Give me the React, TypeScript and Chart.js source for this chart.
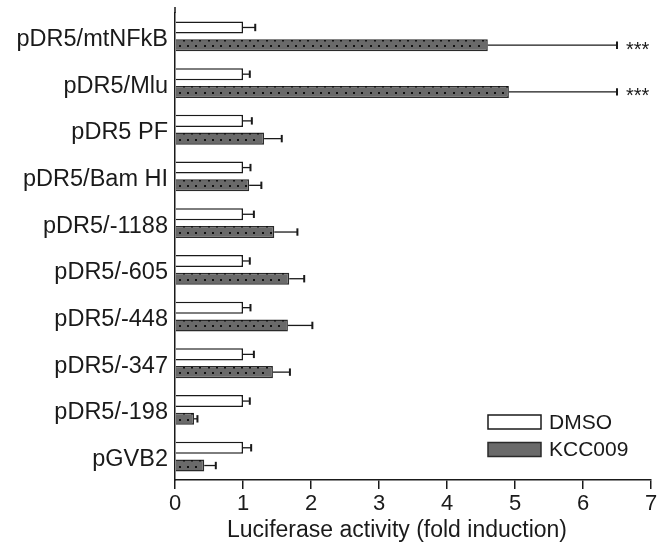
import React, { useEffect, useRef } from "react";
import { Chart, registerables } from "chart.js";
Chart.register(...registerables);

const categories = [
  "pDR5/mtNFkB",
  "pDR5/Mlu",
  "pDR5 PF",
  "pDR5/Bam HI",
  "pDR5/-1188",
  "pDR5/-605",
  "pDR5/-448",
  "pDR5/-347",
  "pDR5/-198",
  "pGVB2",
];
const seriesLabels = ["DMSO", "KCC009"];
const dmsoValues = [1, 1, 1, 1, 1, 1, 1, 1, 1, 1];
const dmsoErrorTop = [1.18, 1.1, 1.13, 1.11, 1.16, 1.1, 1.11, 1.16, 1.1, 1.12];
const kccValues = [4.6, 4.91, 1.31, 1.09, 1.46, 1.68, 1.66, 1.44, 0.28, 0.43];
const kccErrorTop = [6.5, 6.5, 1.57, 1.27, 1.8, 1.9, 2.02, 1.69, 0.33, 0.6];
const significance = ["***", "***", "", "", "", "", "", "", "", ""];
const xMin = 0;
const xMax = 7;
const xTitle = "Luciferase activity (fold induction)";

const FONT = "'Liberation Sans', Arial, Helvetica, sans-serif";
const INK = "#1a1a1a";

const overlayPlugin = {
  id: "overlay",
  afterDatasetsDraw(chart: any) {
    const ctx = chart.ctx;
    const xs = chart.scales.x;
    const area = chart.chartArea;
    ctx.save();
    // dotted texture on KCC bars
    const kMeta = chart.getDatasetMeta(1);
    ctx.fillStyle = "#111";
    kMeta.data.forEach((bar: any) => {
      const p = bar.getProps(["x", "y", "base", "height"], true);
      const left = Math.min(p.x, p.base);
      const right = Math.max(p.x, p.base);
      const top = p.y - p.height / 2;
      for (let dx = left + 3; dx < right - 3; dx += 8.3) {
        ctx.fillRect(Math.round(dx), Math.round(p.y), 2, 2);
        if (dx + 6 < right) ctx.fillRect(Math.round(dx + 4), Math.round(top + 0.5), 2, 1.5);
      }
    });
    // error bars
    chart.data.datasets.forEach((ds: any, di: number) => {
      const meta = chart.getDatasetMeta(di);
      meta.data.forEach((bar: any, i: number) => {
        const p = bar.getProps(["x", "y", "height"], true);
        const xe = xs.getPixelForValue(ds.errorTop[i]);
        ctx.strokeStyle = INK;
        ctx.lineWidth = 1.3;
        ctx.beginPath();
        ctx.moveTo(p.x, p.y);
        ctx.lineTo(xe, p.y);
        ctx.stroke();
        ctx.lineWidth = 2;
        ctx.beginPath();
        ctx.moveTo(xe, p.y - 3.7);
        ctx.lineTo(xe, p.y + 3.7);
        ctx.stroke();
        const sig = ds.sig ? ds.sig[i] : "";
        if (sig) {
          ctx.fillStyle = INK;
          ctx.font = `20px ${FONT}`;
          ctx.textAlign = "left";
          ctx.textBaseline = "middle";
          ctx.fillText(sig, xe + 9, p.y + 5);
        }
      });
    });
    // y-axis line extension above plot
    ctx.strokeStyle = INK;
    ctx.lineWidth = 1.5;
    ctx.beginPath();
    ctx.moveTo(area.left, area.top);
    ctx.lineTo(area.left, area.top - 6);
    ctx.stroke();
    // legend
    const bx = area.right - 163;
    const rows = [area.bottom - 58, area.bottom - 30.5];
    chart.data.datasets.forEach((ds: any, di: number) => {
      const cy = rows[di];
      ctx.fillStyle = ds.backgroundColor;
      ctx.fillRect(bx, cy - 7, 53, 14);
      ctx.strokeStyle = ds.borderColor;
      ctx.lineWidth = 1.5;
      ctx.strokeRect(bx, cy - 7, 53, 14);
      ctx.fillStyle = INK;
      ctx.font = `21px ${FONT}`;
      ctx.textAlign = "left";
      ctx.textBaseline = "middle";
      ctx.fillText(ds.label, bx + 61, cy + 1);
    });
    // x-axis title
    ctx.fillStyle = INK;
    ctx.font = `23px ${FONT}`;
    ctx.textAlign = "center";
    ctx.textBaseline = "middle";
    ctx.fillText(xTitle, area.left + 222, area.bottom + 51);
    ctx.restore();
  },
};

export default function App() {
  const ref = useRef<HTMLCanvasElement | null>(null);
  useEffect(() => {
    if (!ref.current) return;
    const chart = new Chart(ref.current, {
      type: "bar",
      data: {
        labels: categories,
        datasets: [
          {
            label: seriesLabels[0],
            data: dmsoValues,
            errorTop: dmsoErrorTop,
            backgroundColor: "#ffffff",
            borderColor: "#1a1a1a",
            borderWidth: 1.5,
            categoryPercentage: 0.76,
            barPercentage: 0.68,
          } as any,
          {
            label: seriesLabels[1],
            data: kccValues,
            errorTop: kccErrorTop,
            sig: significance,
            backgroundColor: "#6a6a6a",
            borderColor: "#2a2a2a",
            borderWidth: 1.5,
            categoryPercentage: 0.76,
            barPercentage: 0.68,
          } as any,
        ],
      },
      options: {
        indexAxis: "y",
        animation: false,
        responsive: false,
        maintainAspectRatio: false,
        layout: { padding: { top: 13, right: 17, left: 0, bottom: 0 } },
        plugins: { legend: { display: false }, tooltip: { enabled: false } },
        scales: {
          x: {
            type: "linear",
            min: xMin,
            max: xMax,
            ticks: {
              stepSize: 1,
              color: INK,
              font: { family: FONT, size: 22 },
              padding: 2,
            },
            grid: {
              drawOnChartArea: false,
              drawTicks: true,
              tickLength: 9,
              color: INK,
              lineWidth: 1.5,
            },
            border: { display: true, color: INK, width: 1.5 },
            title: { display: false },
            afterFit(scale: any) {
              scale.height = 73;
              scale.paddingLeft = 0;
              scale.paddingRight = 0;
            },
          },
          y: {
            type: "category",
            ticks: {
              color: INK,
              font: { family: FONT, size: 23.5 },
              padding: 7,
              labelOffset: 3,
            },
            grid: { drawOnChartArea: false, drawTicks: false },
            border: { display: true, color: INK, width: 1.5 },
            afterFit(scale: any) {
              scale.width = 175;
              scale.paddingTop = 0;
              scale.paddingBottom = 0;
            },
          },
        },
      },
      plugins: [overlayPlugin],
    });
    return () => chart.destroy();
  }, []);
  return (
    <div style={{ position: "fixed", left: 0, top: 0, width: 668, height: 553, background: "#fff" }}>
      <canvas ref={ref} width={668} height={553} style={{ display: "block", width: 668, height: 553 }} />
    </div>
  );
}
